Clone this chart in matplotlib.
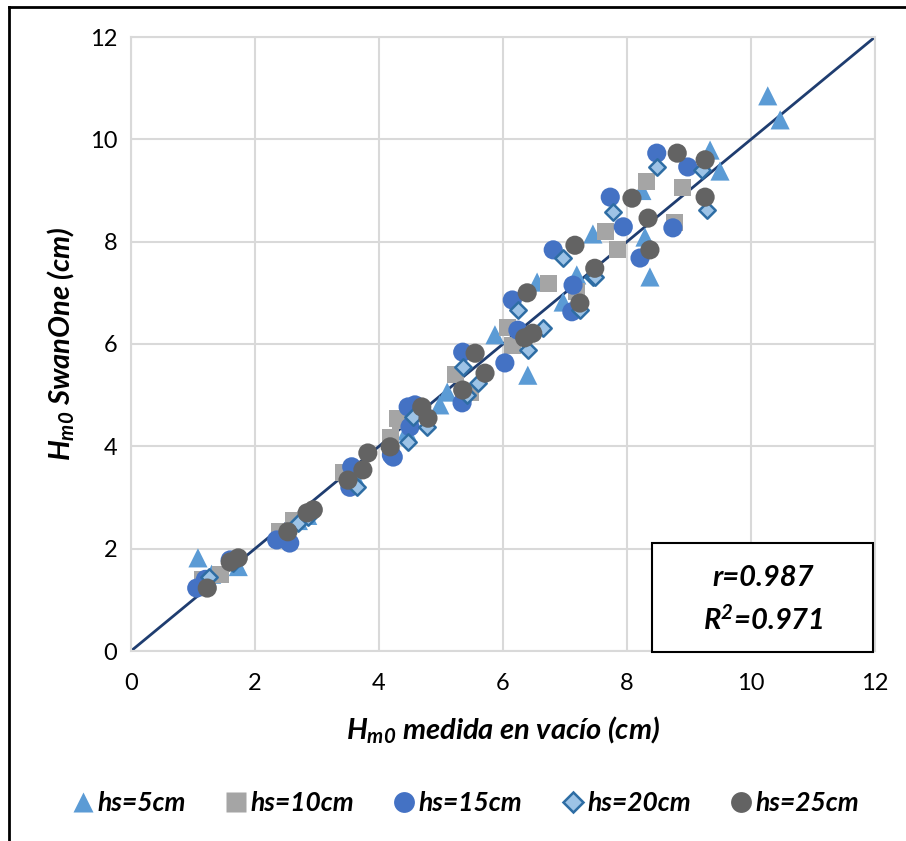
import matplotlib
matplotlib.use("Agg")
import matplotlib.pyplot as plt
from matplotlib.lines import Line2D
from matplotlib.patches import Rectangle

plt.rcParams['font.family'] = ['Lato', 'DejaVu Sans']
plt.rcParams['mathtext.fontset'] = 'custom'
plt.rcParams['mathtext.it'] = 'Lato:italic:bold'
plt.rcParams['mathtext.rm'] = 'Lato:bold:italic'
plt.rcParams['mathtext.bf'] = 'Lato:bold:italic'

# ---- data ----
hs5_x = [1.08, 1.3, 1.73, 2.7, 2.85, 3.6, 4.18, 4.45, 4.98, 5.1, 5.87, 6.4, 6.55, 6.97, 7.19, 7.45, 8.24, 8.29, 8.37, 9.34, 9.5, 10.27, 10.47]
hs5_y = [1.82, 1.5, 1.65, 2.55, 2.65, 3.45, 4.12, 4.3, 4.81, 5.06, 6.18, 5.39, 7.21, 6.82, 7.35, 8.15, 9.0, 8.09, 7.31, 9.79, 9.38, 10.85, 10.38]

hs10_x = [1.16, 1.45, 2.4, 2.62, 3.42, 4.18, 4.3, 4.34, 5.23, 5.47, 6.08, 6.15, 6.73, 7.19, 7.65, 7.85, 8.32, 8.77, 8.89]
hs10_y = [1.39, 1.5, 2.33, 2.55, 3.48, 4.18, 4.55, 4.51, 5.41, 5.06, 6.33, 5.98, 7.19, 7.02, 8.19, 7.84, 9.17, 8.38, 9.05]

hs15_x = [1.06, 1.2, 1.6, 2.35, 2.56, 3.53, 3.56, 4.2, 4.23, 4.47, 4.5, 4.58, 5.34, 5.35, 6.03, 6.15, 6.24, 6.81, 7.11, 7.13, 7.73, 7.94, 8.21, 8.48, 8.74, 8.98]
hs15_y = [1.23, 1.4, 1.78, 2.17, 2.11, 3.2, 3.6, 3.83, 3.79, 4.77, 4.38, 4.81, 4.85, 5.84, 5.63, 6.86, 6.27, 7.84, 6.63, 7.15, 8.87, 8.29, 7.68, 9.73, 8.27, 9.46]

hs20_x = [1.25, 1.65, 2.7, 2.85, 3.65, 4.47, 4.55, 4.77, 5.35, 5.42, 5.6, 6.24, 6.4, 6.65, 6.97, 7.24, 7.45, 7.48, 7.77, 8.48, 9.21, 9.29]
hs20_y = [1.45, 1.72, 2.5, 2.62, 3.2, 4.08, 4.57, 4.38, 5.55, 5.0, 5.24, 6.66, 5.88, 6.31, 7.68, 6.66, 7.31, 7.31, 8.58, 9.46, 9.4, 8.62]

hs25_x = [1.23, 1.6, 1.73, 2.53, 2.84, 2.94, 3.5, 3.74, 3.82, 4.18, 4.69, 4.79, 5.35, 5.55, 5.71, 6.35, 6.39, 6.48, 7.16, 7.24, 7.48, 8.08, 8.34, 8.37, 8.81, 9.26, 9.26]
hs25_y = [1.23, 1.74, 1.82, 2.33, 2.7, 2.76, 3.34, 3.54, 3.87, 3.99, 4.77, 4.55, 5.1, 5.82, 5.43, 6.12, 7.0, 6.21, 7.93, 6.8, 7.48, 8.85, 8.46, 7.84, 9.73, 9.6, 8.87]

labels = ['hs=5cm', 'hs=10cm', 'hs=15cm', 'hs=20cm', 'hs=25cm']
ticks = [0, 2, 4, 6, 8, 10, 12]
line_x = [0, 12]
line_y = [0, 12]

# ---- figure ----
fig = plt.figure(figsize=(9.06, 8.41), dpi=100)
ax = fig.add_axes([131/906, 1-651/841, (875-131)/906, (651-37)/841])

grid_c = '#D9D9D9'
ax.set_xlim(0, 12)
ax.set_ylim(0, 12)
ax.set_xticks(ticks)
ax.set_yticks(ticks)
ax.grid(True, color=grid_c, lw=1.5, zorder=0)
for s in ax.spines.values():
    s.set_color(grid_c)
    s.set_linewidth(1.5)
ax.tick_params(length=0, labelsize=17, colors='#000000')
ax.tick_params(axis='y', pad=10)
ax.tick_params(axis='x', pad=16)

ax.plot(line_x, line_y, color='#1F3D70', lw=2.0, zorder=2)

styles = [
    dict(marker='^', s=190, c='#5B9BD5', edgecolors='none'),
    dict(marker='s', s=150, c='#A5A5A5', edgecolors='none'),
    dict(marker='o', s=190, c='#4472C4', edgecolors='none'),
    dict(marker='D', s=70, c='#9DC3E6', edgecolors='#2E6DA4', linewidths=1.8),
    dict(marker='o', s=190, c='#636363', edgecolors='none'),
]
series = [(hs5_x, hs5_y), (hs10_x, hs10_y), (hs15_x, hs15_y), (hs20_x, hs20_y), (hs25_x, hs25_y)]
for (xs, ys), st, lab in zip(series, styles, labels):
    ax.scatter(xs, ys, label=lab, zorder=3, **st)

ax.set_xlabel(r'$H_{m0}$ medida en vacío (cm)', fontsize=21, fontweight='bold', style='italic', labelpad=14)
ax.set_ylabel(r'$H_{m0}$ SwanOne (cm)', fontsize=21, fontweight='bold', style='italic', labelpad=10)

# stats box
box = Rectangle((652/906, 1-652/841), 221/906, 109/841, transform=fig.transFigure,
                fc='white', ec='black', lw=1.5, zorder=5, clip_on=False)
fig.add_artist(box)
fig.text(763/906, 1-578/841, 'r=0.987', ha='center', va='center',
         fontsize=21, fontweight='bold', style='italic', zorder=6)
fig.text(763/906, 1-620/841, r'R$^{2}$=0.971', ha='center', va='center',
         fontsize=21, fontweight='bold', style='italic', zorder=6)

# legend
handles = [
    Line2D([], [], ls='none', marker='^', ms=15, mfc='#5B9BD5', mec='none'),
    Line2D([], [], ls='none', marker='s', ms=14, mfc='#A5A5A5', mec='none'),
    Line2D([], [], ls='none', marker='o', ms=15, mfc='#4472C4', mec='none'),
    Line2D([], [], ls='none', marker='D', ms=10, mfc='#9DC3E6', mec='#2E6DA4', mew=1.8),
    Line2D([], [], ls='none', marker='o', ms=15, mfc='#636363', mec='none'),
]
leg = fig.legend(handles, labels, loc='center', bbox_to_anchor=(0.514, 0.045), ncol=5,
                 frameon=False, handlelength=0.8, handletextpad=0.15, columnspacing=1.5,
                 prop=dict(family='Lato', weight='bold', style='italic', size=19))

# outer frame (top and left)
fig.add_artist(Line2D([9/906, 1.0], [1-7/841, 1-7/841], transform=fig.transFigure, color='black', lw=2))
fig.add_artist(Line2D([9/906, 9/906], [0, 1-7/841], transform=fig.transFigure, color='black', lw=2))

fig.savefig('out.png', dpi=100)
